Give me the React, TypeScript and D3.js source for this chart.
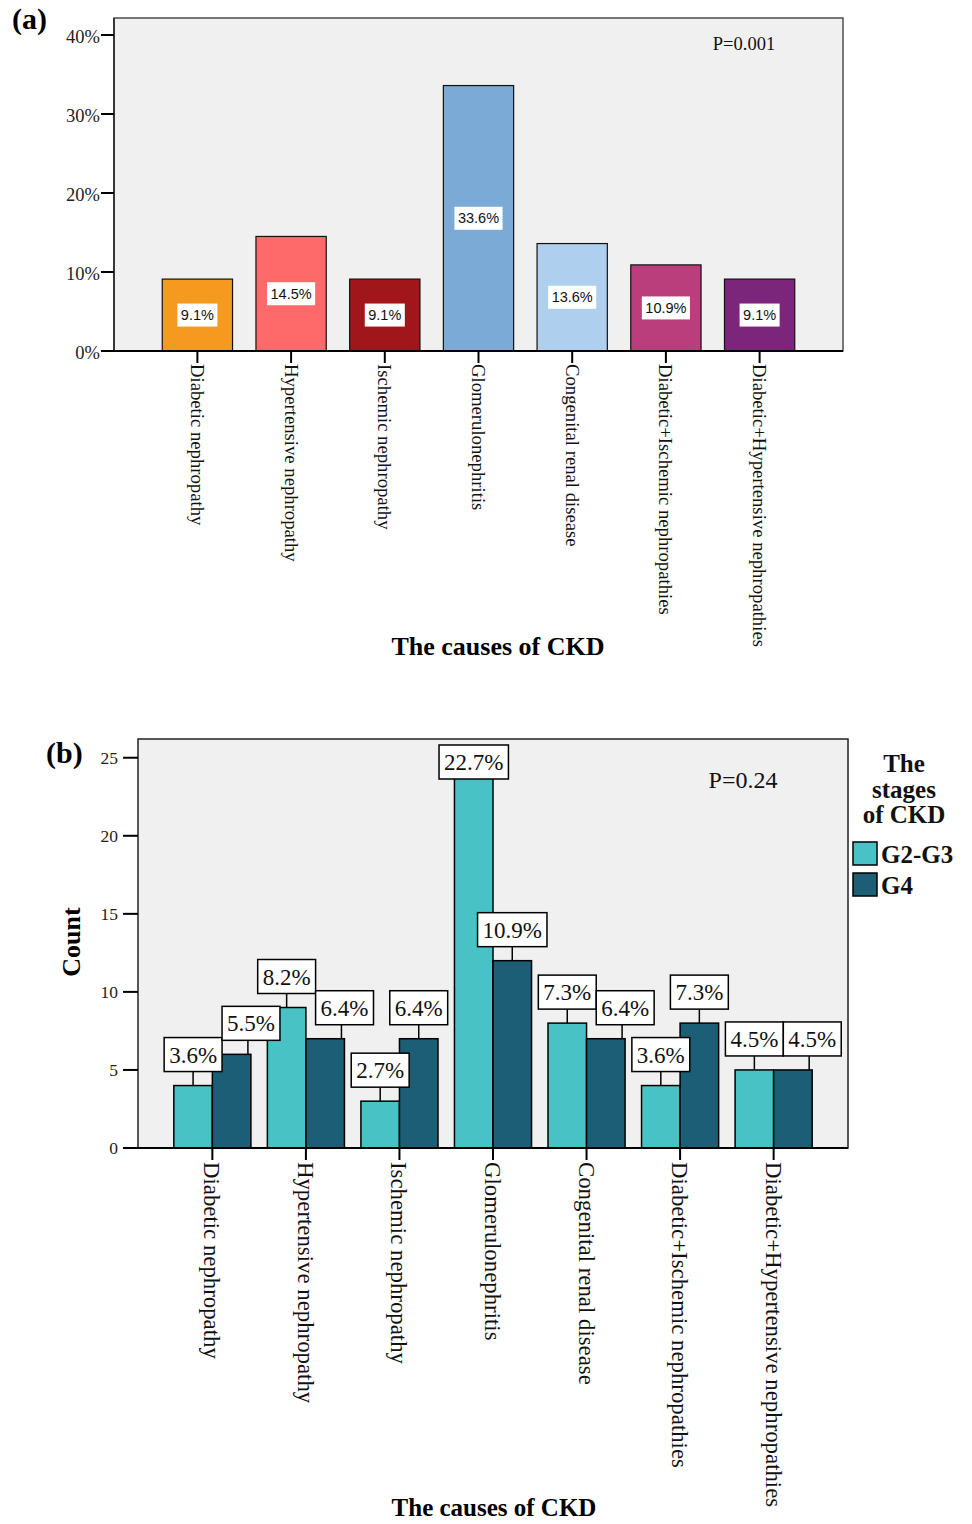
import React from 'react';
import * as d3 from 'd3';

const causes = [
  'Diabetic nephropathy',
  'Hypertensive nephropathy',
  'Ischemic nephropathy',
  'Glomerulonephritis',
  'Congenital renal disease',
  'Diabetic+Ischemic nephropathies',
  'Diabetic+Hypertensive nephropathies',
];
const causePercent = [9.1, 14.5, 9.1, 33.6, 13.6, 10.9, 9.1];
const percentTicks = [0, 10, 20, 30, 40];

const stages = ['G2-G3', 'G4'];
const countG2G3 = [4, 9, 3, 25, 8, 4, 5];
const countG4 = [6, 7, 7, 12, 7, 8, 5];
const pctG2G3 = ['3.6%', '8.2%', '2.7%', '22.7%', '7.3%', '3.6%', '4.5%'];
const pctG4 = ['5.5%', '6.4%', '6.4%', '10.9%', '6.4%', '7.3%', '4.5%'];
const countTicks = [0, 5, 10, 15, 20, 25];

const causeColors = ['#f59a1f', '#fd6a69', '#a1161b', '#7baad6', '#aecfee', '#bb3e7c', '#7c267b'];
const stageColors = ['#48c2c5', '#1b5e75'];

const serif = '"Liberation Serif", "Times New Roman", serif';
const sans = '"Liberation Sans", Arial, sans-serif';

// rough glyph widths (em) for label boxes
const serifW = (s: string) => s.split('').reduce((a, c) => a + (c === '.' ? 0.25 : c === '%' ? 0.833 : 0.5), 0);
const sansW = (s: string) => s.split('').reduce((a, c) => a + (c === '.' ? 0.278 : c === '%' ? 0.889 : 0.556), 0);

const App = () => {
  // panel (a)
  const a = { left: 114, right: 843, top: 18, bottom: 351 };
  const xA = d3.scaleBand().domain(causes).range([a.left, a.right]).paddingInner(0.25).paddingOuter(0.515);
  const yA = d3.scaleLinear().domain([0, 42.15]).range([a.bottom, a.top]);

  // panel (b)
  const b = { left: 138, right: 848, top: 739, bottom: 1148 };
  const xB = d3.scaleBand().domain(causes).range([b.left, b.right]).paddingInner(0.176).paddingOuter(0.383);
  const xSub = d3.scaleBand().domain(stages).range([0, xB.bandwidth()]);
  const yB = d3.scaleLinear().domain([0, 26.2]).range([b.bottom, b.top]);

  const barsB: any[] = [];
  causes.forEach((c, i) => {
    [countG2G3[i], countG4[i]].forEach((v, j) => {
      barsB.push({
        cause: c,
        stage: stages[j],
        value: v,
        label: j === 0 ? pctG2G3[i] : pctG4[i],
        x0: xB(c)! + xSub(stages[j])!,
        w: xSub.bandwidth(),
        color: stageColors[j],
      });
    });
  });

  // label boxes: above bar, clamped to plot, nudged right on overlap
  const fsB = 23;
  let prev: any = null;
  const labelsB = barsB.map((d) => {
    const bw = serifW(d.label) * fsB + 10;
    const bh = 34;
    const cx = d.x0 + d.w / 2;
    const top = yB(d.value);
    let by = Math.max(b.top + 6, top - 14 - bh);
    let bx = cx - bw / 2;
    if (prev && bx < prev.x + prev.w && bx + bw > prev.x && by < prev.y + prev.h && by + bh > prev.y) {
      bx = prev.x + prev.w;
    }
    const box = { x: bx, y: by, w: bw, h: bh, text: d.label, barTop: top,
      lx: Math.min(Math.max(bx + bw / 2, d.x0 + 3), d.x0 + d.w - 3) };
    prev = box;
    return box;
  });

  return (
    <svg width={972} height={1524} style={{ position: 'absolute', left: 0, top: 0, background: '#fff' }}>
      {/* ---------- (a) ---------- */}
      <text x={12} y={29} fontFamily={serif} fontWeight="bold" fontSize={30}>(a)</text>
      <rect x={a.left} y={a.top} width={a.right - a.left} height={a.bottom - a.top} fill="#f0f0f0" stroke="#333" strokeWidth={1.3} />
      {causes.map((c, i) => {
        const x = xA(c)!;
        const y1 = yA(causePercent[i]);
        const mid = (y1 + yA(0)) / 2;
        const t = causePercent[i].toFixed(1) + '%';
        const tw = sansW(t) * 14.5 + 7;
        return (
          <g key={c}>
            <rect x={x} y={y1} width={xA.bandwidth()} height={yA(0) - y1} fill={causeColors[i]} stroke="#111" strokeWidth={1.2} />
            <rect x={x + xA.bandwidth() / 2 - tw / 2} y={mid - 11.5} width={tw} height={23} fill="#fff" />
            <text x={x + xA.bandwidth() / 2} y={mid + 5} textAnchor="middle" fontFamily={sans} fontSize={14.5} fill="#111">{t}</text>
          </g>
        );
      })}
      <line x1={a.left} x2={a.right} y1={a.bottom} y2={a.bottom} stroke="#000" strokeWidth={2} />
      <line x1={a.left} x2={a.left} y1={a.top} y2={a.bottom} stroke="#222" strokeWidth={1.5} />
      {percentTicks.map((t) => (
        <g key={t}>
          <line x1={101} x2={a.left} y1={yA(t)} y2={yA(t)} stroke="#000" strokeWidth={2} />
          <text x={100} y={yA(t)} dy="0.45em" textAnchor="end" fontFamily={serif} fontSize={18.5} fill="#222">{t}%</text>
        </g>
      ))}
      {causes.map((c) => {
        const cx = xA(c)! + xA.bandwidth() / 2;
        return (
          <g key={c}>
            <line x1={cx} x2={cx} y1={a.bottom} y2={a.bottom + 12} stroke="#000" strokeWidth={2} />
            <text transform={`translate(${cx},${a.bottom + 13}) rotate(90)`} dy="0.35em" fontFamily={serif} fontSize={18.7} fill="#111">{c}</text>
          </g>
        );
      })}
      <text x={744} y={50} textAnchor="middle" fontFamily={serif} fontSize={18.5} fill="#111">P=0.001</text>
      <text x={498} y={655} textAnchor="middle" fontFamily={serif} fontWeight="bold" fontSize={26}>The causes of CKD</text>

      {/* ---------- (b) ---------- */}
      <text x={46} y={763} fontFamily={serif} fontWeight="bold" fontSize={30}>(b)</text>
      <rect x={b.left} y={b.top} width={b.right - b.left} height={b.bottom - b.top} fill="#f0f0f0" stroke="#222" strokeWidth={1.5} />
      {barsB.map((d) => (
        <rect key={d.cause + d.stage} x={d.x0} y={yB(d.value)} width={d.w} height={yB(0) - yB(d.value)} fill={d.color} stroke="#000" strokeWidth={1.5} />
      ))}
      {labelsB.map((l, i) => (
        <g key={i}>
          {l.y + l.h < l.barTop && (
            <line x1={l.lx} x2={l.lx} y1={l.y + l.h} y2={l.barTop} stroke="#000" strokeWidth={1.5} />
          )}
          <rect x={l.x} y={l.y} width={l.w} height={l.h} fill="#fff" stroke="#000" strokeWidth={1.5} />
          <text x={l.x + l.w / 2} y={l.y + 25} textAnchor="middle" fontFamily={serif} fontSize={fsB} fill="#111">{l.text}</text>
        </g>
      ))}
      <line x1={b.left} x2={b.right} y1={b.bottom} y2={b.bottom} stroke="#000" strokeWidth={2} />
      {countTicks.map((t) => (
        <g key={t}>
          <line x1={123} x2={b.left} y1={yB(t)} y2={yB(t)} stroke="#000" strokeWidth={2} />
          <text x={118} y={yB(t)} dy="0.35em" textAnchor="end" fontFamily={serif} fontSize={17.5} fill="#222">{t}</text>
        </g>
      ))}
      <text transform={`translate(80,942) rotate(-90)`} textAnchor="middle" fontFamily={serif} fontWeight="bold" fontSize={26}>Count</text>
      {causes.map((c) => {
        const cx = xB(c)! + xB.bandwidth() / 2;
        return (
          <g key={c}>
            <line x1={cx} x2={cx} y1={b.bottom} y2={b.bottom + 12} stroke="#000" strokeWidth={2} />
            <text transform={`translate(${cx},${b.bottom + 14}) rotate(90)`} dy="0.35em" fontFamily={serif} fontSize={22.8} fill="#111">{c}</text>
          </g>
        );
      })}
      <text x={743} y={788} textAnchor="middle" fontFamily={serif} fontSize={24} fill="#111">P=0.24</text>
      <text x={494} y={1516} textAnchor="middle" fontFamily={serif} fontWeight="bold" fontSize={25}>The causes of CKD</text>

      {/* legend */}
      <g fontFamily={serif} fontWeight="bold" fontSize={25} fill="#111">
        <text x={904} y={772} textAnchor="middle">The</text>
        <text x={904} y={798} textAnchor="middle">stages</text>
        <text x={904} y={823} textAnchor="middle">of CKD</text>
        {stages.map((s, j) => (
          <g key={s} transform={`translate(853,${842 + j * 31})`}>
            <rect width={24} height={23} fill={stageColors[j]} stroke="#000" strokeWidth={1.5} />
            <text x={28} y={21}>{s}</text>
          </g>
        ))}
      </g>
    </svg>
  );
};

export default App;
